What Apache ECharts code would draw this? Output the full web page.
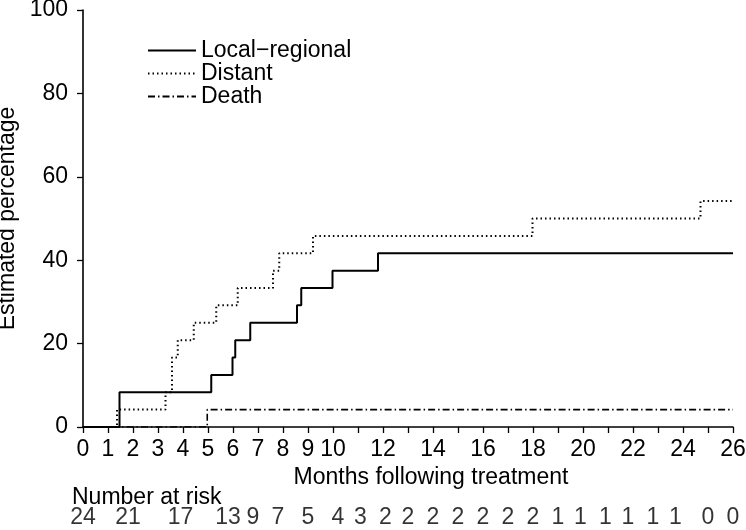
<!DOCTYPE html>
<html>
<head>
<meta charset="utf-8">
<script src="https://cdn.jsdelivr.net/npm/echarts@6/dist/echarts.min.js"></script>
<style>
html,body{margin:0;padding:0;background:#fff;}
#chart{width:746px;height:530px;}
</style>
</head>
<body>
<div id="chart"></div>
<script>
// ---- data ----
const seriesNames = ['Local\u2212regional', 'Distant', 'Death'];
const localTimes  = [0, 1.46, 5.13, 5.98, 6.09, 6.69, 8.56, 8.73, 9.98, 11.8, 26];
const localValues = [0, 8.33, 12.5, 16.67, 20.83, 25.0, 29.17, 33.33, 37.5, 41.67, 41.67];
const distantTimes  = [0, 1.36, 3.3, 3.56, 3.79, 4.43, 5.33, 6.19, 7.6, 7.85, 9.2, 17.98, 24.7, 26];
const distantValues = [0, 4.17, 8.33, 16.67, 20.83, 25.0, 29.17, 33.33, 37.5, 41.67, 45.83, 50.0, 54.17, 54.17];
const deathTimes  = [0, 4.97, 26];
const deathValues = [0, 4.17, 4.17];
const riskMonths = [0, 1.8, 3.9, 5.8, 6.8, 7.8, 9, 10.2, 11.1, 12.1, 13, 14, 15, 16, 17, 18, 19, 19.9, 20.9, 21.8, 22.8, 23.7, 25, 26];
const riskCounts = [24, 21, 17, 13, 9, 7, 5, 4, 3, 2, 2, 2, 2, 2, 2, 2, 1, 1, 1, 1, 1, 1, 0, 0];
const xTitle = 'Months following treatment';
const yTitle = 'Estimated percentage';
const riskTitle = 'Number at risk';

// ---- chart ----
const FONT = '"Liberation Sans", Arial, Helvetica, sans-serif';
const FS = 23;
const zip = (a, b) => a.map((v, i) => [v, b[i]]);

const chart = echarts.init(document.getElementById('chart'), null, {renderer: 'canvas'});
chart.setOption({
  animation: false,
  backgroundColor: '#fff',
  textStyle: {fontFamily: FONT, color: '#000'},
  title: {
    text: riskTitle, left: 67, top: 481,
    textStyle: {fontFamily: FONT, fontWeight: 'normal', fontSize: FS, color: '#000'}
  },
  legend: {
    orient: 'vertical', left: 142, top: 34,
    itemWidth: 48, itemHeight: 14, itemGap: 0,
    data: seriesNames,
    itemStyle: {opacity: 0},
    textStyle: {fontFamily: FONT, fontSize: FS, color: '#000', lineHeight: 21.5}
  },
  grid: [
    {left: 83, right: 13, top: 10, height: 417, outerBoundsMode: 'none', containLabel: false},
    {left: 83, right: 13, top: 506, height: 24, outerBoundsMode: 'none', containLabel: false}
  ],
  xAxis: [
    {
      type: 'value', gridIndex: 0, min: 0, max: 26, interval: 1, z: 10,
      name: xTitle, nameLocation: 'middle', nameGap: 36,
      nameTextStyle: {fontFamily: FONT, fontSize: FS, color: '#000', padding: [0, 0, 0, 46]},
      axisLine: {onZero: false, lineStyle: {color: '#000', width: 1.6}},
      axisTick: {length: 6, lineStyle: {color: '#000', width: 1.3}},
      axisLabel: {
        margin: 11, fontFamily: FONT, fontSize: FS, color: '#000',
        formatter: v => (v > 10 && v % 2 === 1) ? '' : String(v)
      },
      splitLine: {show: false}
    },
    {
      type: 'value', gridIndex: 1, min: 0, max: 26, show: false
    }
  ],
  yAxis: [
    {
      type: 'value', gridIndex: 0, min: 0, max: 100, interval: 20, z: 10,
      name: yTitle, nameLocation: 'middle', nameGap: 56, nameRotate: 90,
      nameTextStyle: {fontFamily: FONT, fontSize: FS, color: '#000'},
      axisLine: {show: true, lineStyle: {color: '#000', width: 1.6}},
      axisTick: {show: true, length: 6, lineStyle: {color: '#000', width: 1.3}},
      axisLabel: {margin: 15, fontFamily: FONT, fontSize: FS, color: '#000'},
      splitLine: {show: false}
    },
    {type: 'value', gridIndex: 1, min: 0, max: 1, show: false}
  ],
  series: [
    {
      name: seriesNames[0], type: 'line', step: 'end', showSymbol: false, symbol: 'none',
      xAxisIndex: 0, yAxisIndex: 0, z: 2,
      data: zip(localTimes, localValues),
      lineStyle: {color: '#000', width: 2, type: 'solid'},
      itemStyle: {color: '#000'}
    },
    {
      name: seriesNames[1], type: 'line', step: 'end', showSymbol: false, symbol: 'none',
      xAxisIndex: 0, yAxisIndex: 0, z: 2,
      data: zip(distantTimes, distantValues),
      lineStyle: {color: '#000', width: 2, type: [1.5, 3]},
      itemStyle: {color: '#000'}
    },
    {
      name: seriesNames[2], type: 'line', step: 'end', showSymbol: false, symbol: 'none',
      xAxisIndex: 0, yAxisIndex: 0, z: 2,
      data: zip(deathTimes, deathValues),
      lineStyle: {color: '#000', width: 1.6, type: [7, 3, 1.5, 3]},
      itemStyle: {color: '#000'}
    },
    {
      name: 'risk', type: 'scatter', xAxisIndex: 1, yAxisIndex: 1,
      symbolSize: 0, silent: true,
      data: riskMonths.map((m, i) => [m, 0.5, riskCounts[i]]),
      label: {
        show: true, position: 'inside', color: '#000',
        fontFamily: FONT, fontSize: FS,
        formatter: p => String(p.value[2])
      }
    }
  ]
});
</script>
</body>
</html>
